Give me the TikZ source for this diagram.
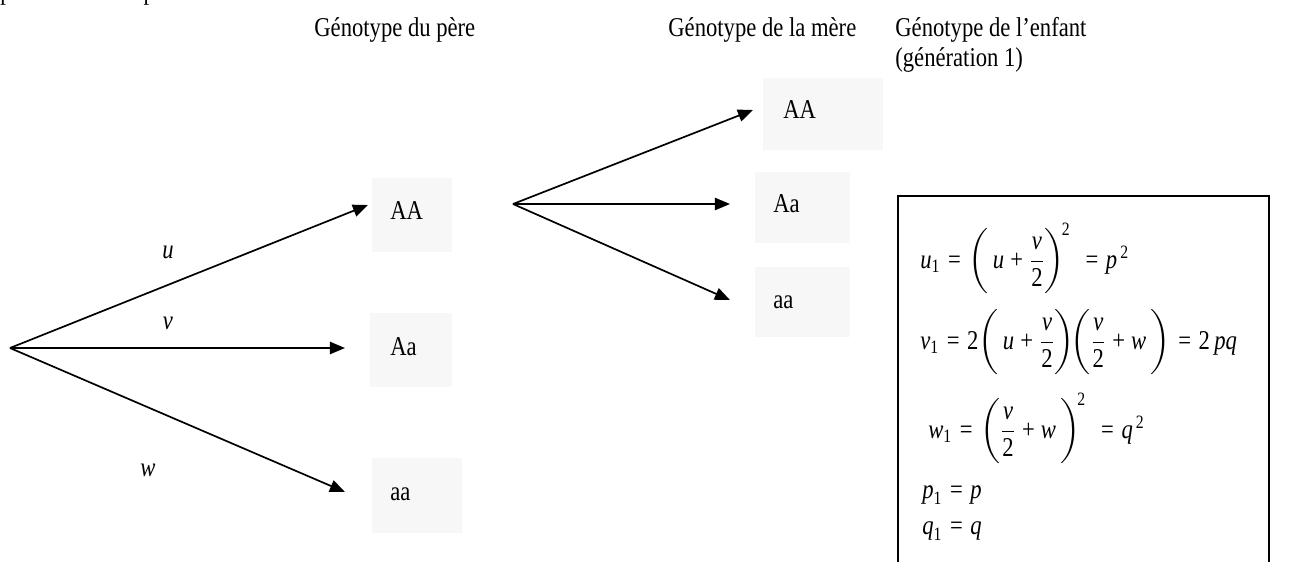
\documentclass[tikz,border=0pt]{standalone}
\usepackage{fontspec}
\setmainfont{Liberation Serif}[FakeStretch=0.833]
\usepackage{amsmath}
\usetikzlibrary{arrows.meta}
% italic letters, upright digits and signs in the Times-like text face
\newcommand\iv[1]{\textit{#1}}
\newcommand\dg[1]{\text{#1}}
\newcommand\eqs{\mathrel{\text{=}}}
\newcommand\pls{\mathbin{\text{+}}}
\newcommand\fr{\dfrac{\iv{v}}{\dg2}}
\begin{document}
\begin{tikzpicture}[x=0.53pt,y=-0.53pt,
  every node/.style={font=\fontsize{14.4}{17}\selectfont, inner sep=0pt},
  txt/.style={anchor=base west},
  branch/.style={line width=0.9pt, -{Triangle[length=8pt,width=6.5pt]}},
  shade/.style={fill=black!3},
  frame/.style={line width=0.9pt},
]
\useasboundingbox (0,0) rectangle (1305,561);

% heading line and column titles
\node[txt] (intro) at (0,-1) {produire et compléter l’arbre suivant:};
\node[txt] (hpere) at (314,36) {Génotype du père};
\node[txt] (hmere) at (668,36) {Génotype de la mère};
\node[txt] (henf) at (895,36) {Génotype de l’enfant};
\node[txt] (hgen) at (895,66) {(génération 1)};

% light backgrounds behind the genotype labels
\fill[shade] (372,178) rectangle (452,252);
\fill[shade] (370,313) rectangle (452,387);
\fill[shade] (372,458) rectangle (462,533);
\fill[shade] (763,78) rectangle (883,150);
\fill[shade] (755,172) rectangle (850,243);
\fill[shade] (755,267) rectangle (850,337);

% father's genotype
\coordinate (r1) at (10,348);
\node[txt] (fAA) at (390,219) {AA};
\node[txt] (fAa) at (390,355) {Aa};
\node[txt] (faa) at (390,500) {aa};
\coordinate (t1) at (368,205);
\coordinate (t2) at (345,348);
\coordinate (t3) at (345,492);
\draw[branch] (r1) -- (t1);
\draw[branch] (r1) -- (t2);
\draw[branch] (r1) -- (t3);
\node (lu) at (168,252) {\itshape u};
\node (lv) at (168,323) {\itshape v};
\node (lw) at (148,470) {\itshape w};

% mother's genotype
\coordinate (r2) at (513,204);
\node[txt] (mAA) at (783,118) {AA};
\node[txt] (mAa) at (773,212) {Aa};
\node[txt] (maa) at (773,308) {aa};
\coordinate (s1) at (753,110);
\coordinate (s2) at (730,204);
\coordinate (s3) at (730,300);
\draw[branch] (r2) -- (s1);
\draw[branch] (r2) -- (s2);
\draw[branch] (r2) -- (s3);

% child's genotype frequencies
\draw[frame] (898,600) -- (898,196) -- (1269,196) -- (1269,600);
\node[txt] (eu) at (920,268)
  {$\iv{u}_{\dg1} \eqs \biggl(\,\iv{u}\pls\fr\biggr)^{\!\dg2} \;\eqs \iv{p}^{\,\dg2}$};
\node[txt] (ev) at (920,349)
  {$\iv{v}_{\dg1} \eqs \dg2\biggl(\,\iv{u}\pls\fr\biggr)\!\biggl(\fr\pls\iv{w}\,\biggr) \eqs \dg2\,\iv{pq}$};
\node[txt] (ew) at (928,438)
  {$\iv{w}_{\dg1} \eqs \biggl(\fr\pls\iv{w}\,\biggr)^{\!\dg2} \;\eqs \iv{q}^{\,\dg2}$};
\node[txt] (ep) at (922,498) {$\iv{p}_{\dg1} \eqs \iv{p}$};
\node[txt] (eq) at (922,534) {$\iv{q}_{\dg1} \eqs \iv{q}$};
\end{tikzpicture}
\end{document}
